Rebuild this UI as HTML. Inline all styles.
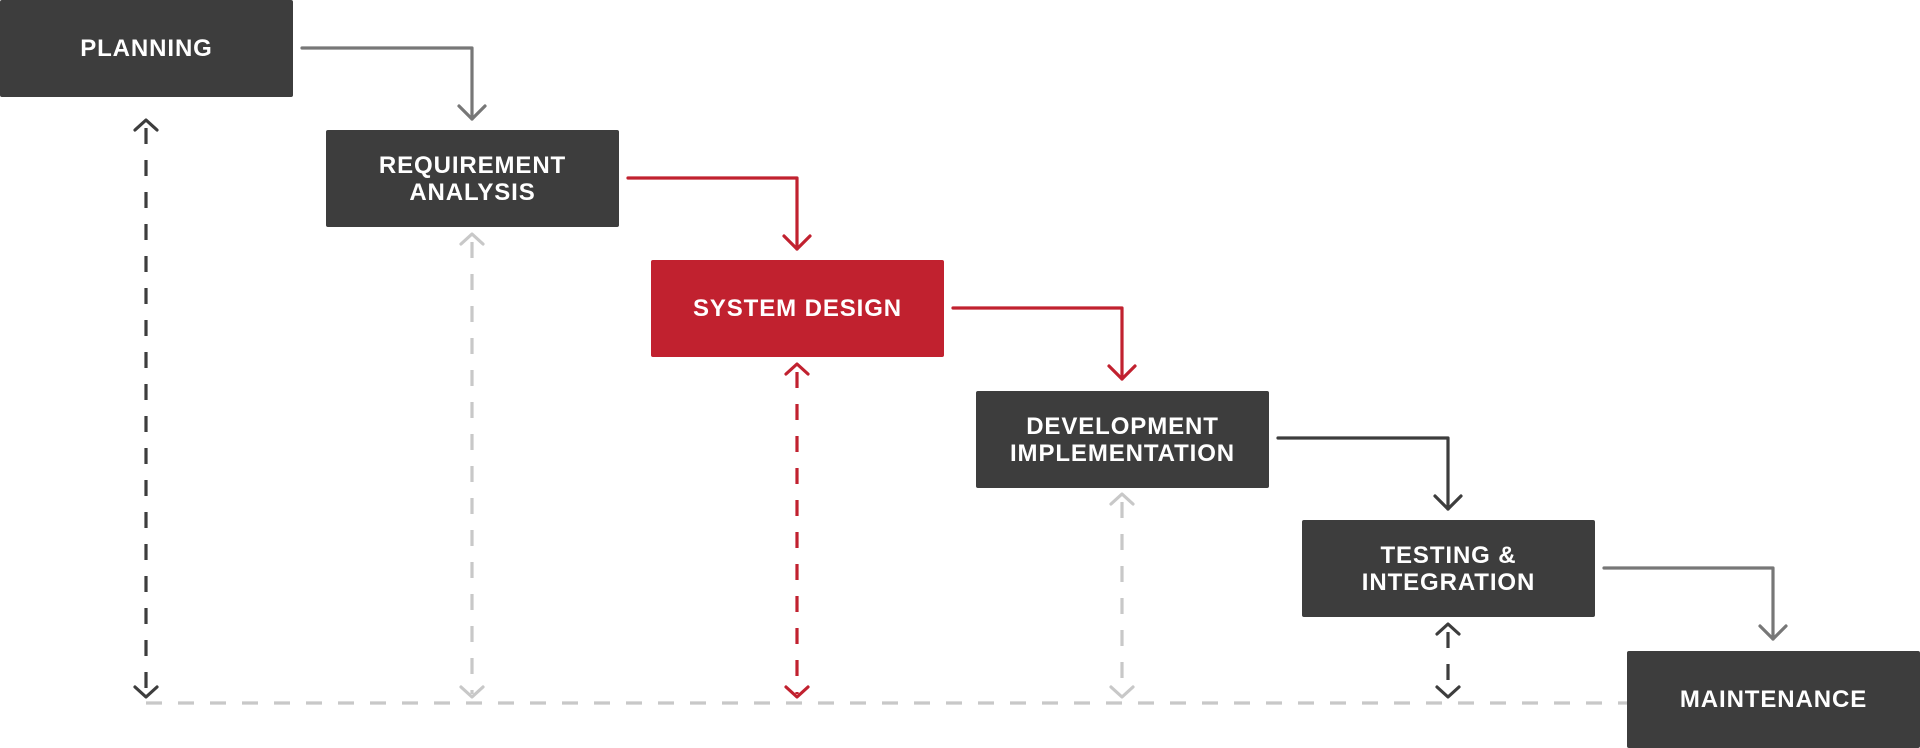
<!DOCTYPE html>
<html><head><meta charset="utf-8"><style>
html,body{margin:0;padding:0;background:#fff;width:1920px;height:748px;overflow:hidden;}
.b{position:absolute;width:293px;height:97px;background:#3d3d3d;color:#fff;font-family:"Liberation Sans",sans-serif;font-weight:bold;font-size:24px;line-height:27px;display:flex;align-items:center;justify-content:center;text-align:center;border-radius:2px;letter-spacing:0.9px}
svg{position:absolute;left:0;top:0}
</style></head><body>
<svg width="1920" height="748" fill="none" stroke-width="3.2" stroke-linecap="round" stroke-linejoin="round">
<line x1="146" y1="703" x2="1627" y2="703" stroke="#c8c8c8" stroke-dasharray="16 16" stroke-linecap="butt"/>
<g stroke-dasharray="16 16" stroke-linecap="butt">
<line x1="146" y1="128" x2="146" y2="694" stroke="#3d3d3d"/>
<line x1="472" y1="242" x2="472" y2="694" stroke="#c8c8c8"/>
<line x1="797" y1="372" x2="797" y2="694" stroke="#c1212f"/>
<line x1="1122" y1="502" x2="1122" y2="694" stroke="#c8c8c8"/>
<line x1="1448" y1="632" x2="1448" y2="694" stroke="#3d3d3d"/>
</g>
<g>
<polyline points="135,130 146,120 157,130" stroke="#3d3d3d"/><polyline points="135,687 146,697 157,687" stroke="#3d3d3d"/>
<polyline points="461,244 472,234 483,244" stroke="#c8c8c8"/><polyline points="461,687 472,697 483,687" stroke="#c8c8c8"/>
<polyline points="786,374 797,364 808,374" stroke="#c1212f"/><polyline points="786,687 797,697 808,687" stroke="#c1212f"/>
<polyline points="1111,504 1122,494 1133,504" stroke="#c8c8c8"/><polyline points="1111,687 1122,697 1133,687" stroke="#c8c8c8"/>
<polyline points="1437,634 1448,624 1459,634" stroke="#3d3d3d"/><polyline points="1437,687 1448,697 1459,687" stroke="#3d3d3d"/>
</g>
<polyline points="302,48 472,48 472,119" stroke="#777"/><polyline points="459,106 472,119 485,106" stroke="#777"/>
<polyline points="628,178 797,178 797,249" stroke="#c1212f"/><polyline points="784,236 797,249 810,236" stroke="#c1212f"/>
<polyline points="953,308 1122,308 1122,379" stroke="#c1212f"/><polyline points="1109,366 1122,379 1135,366" stroke="#c1212f"/>
<polyline points="1278,438 1448,438 1448,509" stroke="#3d3d3d"/><polyline points="1435,496 1448,509 1461,496" stroke="#3d3d3d"/>
<polyline points="1604,568 1773,568 1773,639" stroke="#777"/><polyline points="1760,626 1773,639 1786,626" stroke="#777"/>
</svg>
<div class="b" style="left:0;top:0">PLANNING</div>
<div class="b" style="top:130px;left:326px">REQUIREMENT<br>ANALYSIS</div>
<div class="b" style="left:651px;top:260px;background:#c1212f">SYSTEM DESIGN</div>
<div class="b" style="left:976px;top:391px">DEVELOPMENT<br>IMPLEMENTATION</div>
<div class="b" style="left:1302px;top:520px">TESTING &amp;<br>INTEGRATION</div>
<div class="b" style="left:1627px;top:651px">MAINTENANCE</div>
</body></html>
